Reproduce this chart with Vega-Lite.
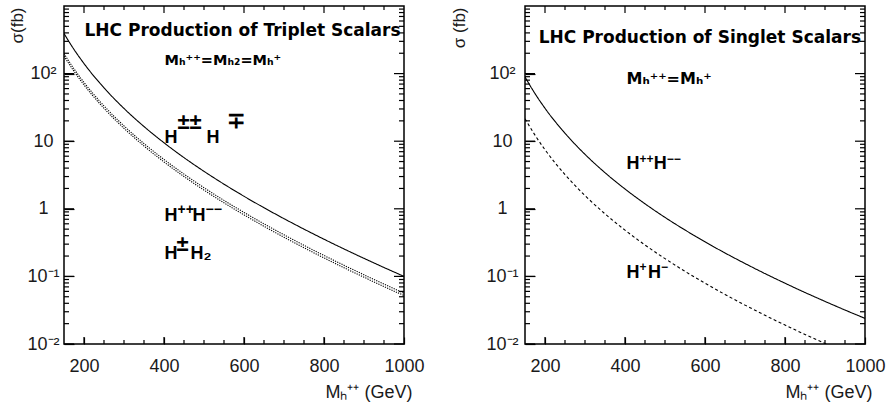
{
  "$schema": "https://vega.github.io/schema/vega-lite/v6.json",
  "padding": {"left": 7, "top": 5, "right": 12, "bottom": 4},
  "spacing": 121,
  "bounds": "flush",
  "config": {
    "view": {"stroke": "black", "strokeWidth": 1.5},
    "axis": {"domain": false, "grid": false, "ticks": true, "tickColor": "black", "tickWidth": 1.2, "labelColor": "#1a1a1a", "labelFont": "Liberation Sans", "labelFontSize": 18, "titleFont": "Liberation Sans", "titleFontSize": 17, "titleFontWeight": "normal", "titleColor": "#1a1a1a", "labelOverlap": false, "labelFlush": false}
  },
  "datasets": {
    "triplet": [
      {"m":150,"sigma":391.7,"process":"triplet H±±H∓"},{"m":175,"sigma":227.6,"process":"triplet H±±H∓"},{"m":200,"sigma":140.8,"process":"triplet H±±H∓"},{"m":250,"sigma":61.6,"process":"triplet H±±H∓"},{"m":300,"sigma":30.5,"process":"triplet H±±H∓"},{"m":350,"sigma":16.48,"process":"triplet H±±H∓"},{"m":400,"sigma":9.48,"process":"triplet H±±H∓"},{"m":450,"sigma":5.715,"process":"triplet H±±H∓"},{"m":500,"sigma":3.581,"process":"triplet H±±H∓"},{"m":550,"sigma":2.313,"process":"triplet H±±H∓"},{"m":600,"sigma":1.532,"process":"triplet H±±H∓"},{"m":650,"sigma":1.037,"process":"triplet H±±H∓"},{"m":700,"sigma":0.7145,"process":"triplet H±±H∓"},{"m":750,"sigma":0.5001,"process":"triplet H±±H∓"},{"m":800,"sigma":0.3548,"process":"triplet H±±H∓"},{"m":850,"sigma":0.2547,"process":"triplet H±±H∓"},{"m":900,"sigma":0.1848,"process":"triplet H±±H∓"},{"m":950,"sigma":0.1354,"process":"triplet H±±H∓"},{"m":1000,"sigma":0.1,"process":"triplet H±±H∓"},
      {"m":150,"sigma":197.7,"process":"triplet H⁺⁺H⁻⁻"},{"m":175,"sigma":117.4,"process":"triplet H⁺⁺H⁻⁻"},{"m":200,"sigma":73.98,"process":"triplet H⁺⁺H⁻⁻"},{"m":250,"sigma":33.3,"process":"triplet H⁺⁺H⁻⁻"},{"m":300,"sigma":16.84,"process":"triplet H⁺⁺H⁻⁻"},{"m":350,"sigma":9.226,"process":"triplet H⁺⁺H⁻⁻"},{"m":400,"sigma":5.362,"process":"triplet H⁺⁺H⁻⁻"},{"m":450,"sigma":3.261,"process":"triplet H⁺⁺H⁻⁻"},{"m":500,"sigma":2.053,"process":"triplet H⁺⁺H⁻⁻"},{"m":550,"sigma":1.331,"process":"triplet H⁺⁺H⁻⁻"},{"m":600,"sigma":0.8843,"process":"triplet H⁺⁺H⁻⁻"},{"m":650,"sigma":0.5987,"process":"triplet H⁺⁺H⁻⁻"},{"m":700,"sigma":0.4123,"process":"triplet H⁺⁺H⁻⁻"},{"m":750,"sigma":0.2882,"process":"triplet H⁺⁺H⁻⁻"},{"m":800,"sigma":0.204,"process":"triplet H⁺⁺H⁻⁻"},{"m":850,"sigma":0.146,"process":"triplet H⁺⁺H⁻⁻"},{"m":900,"sigma":0.1056,"process":"triplet H⁺⁺H⁻⁻"},{"m":950,"sigma":0.077,"process":"triplet H⁺⁺H⁻⁻"},{"m":1000,"sigma":0.0566,"process":"triplet H⁺⁺H⁻⁻"},
      {"m":150,"sigma":181.9,"process":"triplet H±H₂"},{"m":175,"sigma":108.0,"process":"triplet H±H₂"},{"m":200,"sigma":68.06,"process":"triplet H±H₂"},{"m":250,"sigma":30.64,"process":"triplet H±H₂"},{"m":300,"sigma":15.49,"process":"triplet H±H₂"},{"m":350,"sigma":8.488,"process":"triplet H±H₂"},{"m":400,"sigma":4.933,"process":"triplet H±H₂"},{"m":450,"sigma":3.0,"process":"triplet H±H₂"},{"m":500,"sigma":1.889,"process":"triplet H±H₂"},{"m":550,"sigma":1.225,"process":"triplet H±H₂"},{"m":600,"sigma":0.8136,"process":"triplet H±H₂"},{"m":650,"sigma":0.5508,"process":"triplet H±H₂"},{"m":700,"sigma":0.3793,"process":"triplet H±H₂"},{"m":750,"sigma":0.2651,"process":"triplet H±H₂"},{"m":800,"sigma":0.1877,"process":"triplet H±H₂"},{"m":850,"sigma":0.1343,"process":"triplet H±H₂"},{"m":900,"sigma":0.0972,"process":"triplet H±H₂"},{"m":950,"sigma":0.0708,"process":"triplet H±H₂"},{"m":1000,"sigma":0.0521,"process":"triplet H±H₂"}
    ],
    "singlet": [
      {"m":150,"sigma":89.1,"process":"singlet H⁺⁺H⁻⁻"},{"m":175,"sigma":50.6,"process":"singlet H⁺⁺H⁻⁻"},{"m":200,"sigma":30.7,"process":"singlet H⁺⁺H⁻⁻"},{"m":250,"sigma":13.1,"process":"singlet H⁺⁺H⁻⁻"},{"m":300,"sigma":6.39,"process":"singlet H⁺⁺H⁻⁻"},{"m":350,"sigma":3.42,"process":"singlet H⁺⁺H⁻⁻"},{"m":400,"sigma":1.963,"process":"singlet H⁺⁺H⁻⁻"},{"m":450,"sigma":1.186,"process":"singlet H⁺⁺H⁻⁻"},{"m":500,"sigma":0.746,"process":"singlet H⁺⁺H⁻⁻"},{"m":550,"sigma":0.4857,"process":"singlet H⁺⁺H⁻⁻"},{"m":600,"sigma":0.3248,"process":"singlet H⁺⁺H⁻⁻"},{"m":650,"sigma":0.2222,"process":"singlet H⁺⁺H⁻⁻"},{"m":700,"sigma":0.1551,"process":"singlet H⁺⁺H⁻⁻"},{"m":750,"sigma":0.1101,"process":"singlet H⁺⁺H⁻⁻"},{"m":800,"sigma":0.0793,"process":"singlet H⁺⁺H⁻⁻"},{"m":850,"sigma":0.0578,"process":"singlet H⁺⁺H⁻⁻"},{"m":900,"sigma":0.0427,"process":"singlet H⁺⁺H⁻⁻"},{"m":950,"sigma":0.0318,"process":"singlet H⁺⁺H⁻⁻"},{"m":1000,"sigma":0.02394,"process":"singlet H⁺⁺H⁻⁻"},
      {"m":150,"sigma":21.53,"process":"singlet H⁺H⁻"},{"m":175,"sigma":12.28,"process":"singlet H⁺H⁻"},{"m":200,"sigma":7.48,"process":"singlet H⁺H⁻"},{"m":250,"sigma":3.21,"process":"singlet H⁺H⁻"},{"m":300,"sigma":1.571,"process":"singlet H⁺H⁻"},{"m":350,"sigma":0.843,"process":"singlet H⁺H⁻"},{"m":400,"sigma":0.483,"process":"singlet H⁺H⁻"},{"m":450,"sigma":0.2915,"process":"singlet H⁺H⁻"},{"m":500,"sigma":0.1832,"process":"singlet H⁺H⁻"},{"m":550,"sigma":0.1189,"process":"singlet H⁺H⁻"},{"m":600,"sigma":0.0793,"process":"singlet H⁺H⁻"},{"m":650,"sigma":0.0541,"process":"singlet H⁺H⁻"},{"m":700,"sigma":0.0376,"process":"singlet H⁺H⁻"},{"m":750,"sigma":0.02658,"process":"singlet H⁺H⁻"},{"m":800,"sigma":0.01906,"process":"singlet H⁺H⁻"},{"m":850,"sigma":0.01385,"process":"singlet H⁺H⁻"},{"m":900,"sigma":0.01017,"process":"singlet H⁺H⁻"},{"m":950,"sigma":0.00755,"process":"singlet H⁺H⁻"},{"m":1000,"sigma":0.00565,"process":"singlet H⁺H⁻"}
    ],
    "xticks": [{"m":200},{"m":250},{"m":300},{"m":350},{"m":400},{"m":450},{"m":500},{"m":550},{"m":600},{"m":650},{"m":700},{"m":750},{"m":800},{"m":850},{"m":900},{"m":950}],
    "yticks": [{"sigma":0.01},{"sigma":0.02},{"sigma":0.03},{"sigma":0.04},{"sigma":0.05},{"sigma":0.06},{"sigma":0.07},{"sigma":0.08},{"sigma":0.09},{"sigma":0.1},{"sigma":0.2},{"sigma":0.3},{"sigma":0.4},{"sigma":0.5},{"sigma":0.6},{"sigma":0.7},{"sigma":0.8},{"sigma":0.9},{"sigma":1},{"sigma":2},{"sigma":3},{"sigma":4},{"sigma":5},{"sigma":6},{"sigma":7},{"sigma":8},{"sigma":9},{"sigma":10},{"sigma":20},{"sigma":30},{"sigma":40},{"sigma":50},{"sigma":60},{"sigma":70},{"sigma":80},{"sigma":90},{"sigma":100},{"sigma":200},{"sigma":300},{"sigma":400},{"sigma":500},{"sigma":600},{"sigma":700},{"sigma":800},{"sigma":900}],
    "tripletText": [
      {"m":201.25,"sigma":359.7,"label":"LHC Production of Triplet Scalars","kind":"title"},
      {"m":401.25,"sigma":134,"label":"Mₕ⁺⁺=Mₕ₂=Mₕ⁺","kind":"mass"},
      {"m":401.25,"sigma":9.41,"label":"H","kind":"proc"},
      {"m":433.75,"sigma":15.15,"label":"±±","kind":"sup"},
      {"m":506.25,"sigma":9.41,"label":"H","kind":"proc"},
      {"m":556.25,"sigma":15.68,"label":"∓","kind":"sup"},
      {"m":401.25,"sigma":0.66,"label":"H","kind":"proc"},
      {"m":433.75,"sigma":0.8236,"label":"++","kind":"small"},
      {"m":471.25,"sigma":0.66,"label":"H","kind":"proc"},
      {"m":503.75,"sigma":0.8236,"label":"−−","kind":"small"},
      {"m":401.25,"sigma":0.1807,"label":"H","kind":"proc"},
      {"m":431.25,"sigma":0.2376,"label":"±","kind":"sup"},
      {"m":466.25,"sigma":0.1807,"label":"H₂","kind":"proc"}
    ],
    "singletText": [
      {"m":184.25,"sigma":283.6,"label":"LHC Production of Singlet Scalars","kind":"title"},
      {"m":403.75,"sigma":70.2,"label":"Mₕ⁺⁺=Mₕ⁺","kind":"mass"},
      {"m":403.75,"sigma":3.88,"label":"H","kind":"proc"},
      {"m":436.25,"sigma":4.84,"label":"++","kind":"small"},
      {"m":471.75,"sigma":3.88,"label":"H","kind":"proc"},
      {"m":504.25,"sigma":4.84,"label":"−−","kind":"small"},
      {"m":403.75,"sigma":0.0947,"label":"H","kind":"proc"},
      {"m":436.25,"sigma":0.1182,"label":"+","kind":"small"},
      {"m":457.5,"sigma":0.0947,"label":"H","kind":"proc"},
      {"m":490,"sigma":0.1182,"label":"−","kind":"small"}
    ]
  },
  "hconcat": [
    {
      "width": 340, "height": 338,
      "layer": [
        {
          "data": {"name": "triplet"},
          "mark": {"type": "line", "clip": true, "color": "black", "strokeWidth": 1.1, "interpolate": "monotone"},
          "encoding": {
            "x": {"field": "m", "type": "quantitative", "scale": {"domain": [150, 1000], "nice": false, "zero": false},
                  "axis": {"zindex": 1, "orient": "bottom", "values": [200,400,600,800,1000], "format": "d", "offset": -7, "tickSize": 7,
                           "labelPadding": 13, "labelBaseline": "top",
                           "title": "Mₕ⁺⁺ (GeV)", "titleFontSize": 18, "titleX": 348, "titleY": 60, "titleAlign": "right", "titleBaseline": "alphabetic", "titleAnchor": null}},
            "y": {"field": "sigma", "type": "quantitative", "scale": {"type": "log", "domain": [0.01, 1000], "nice": false},
                  "axis": {"zindex": 1, "orient": "left", "values": [0.01,0.1,1,10,100], "offset": -10, "tickSize": 10,
                           "labelExpr": "datum.value === 100 ? '10²' : datum.value === 10 ? '10' : datum.value === 1 ? '1' : datum.value === 0.1 ? '10⁻¹' : '10⁻²'",
                           "labelPadding": 21, "labelAlign": "center", "labelBaseline": "middle",
                           "title": "σ(fb)", "titleX": -57, "titleY": 1, "titleAngle": -90, "titleAlign": "right", "titleBaseline": "middle", "titleAnchor": null}},
            "detail": {"field": "process"},
            "strokeDash": {"field": "process", "type": "nominal", "legend": null,
                           "scale": {"domain": ["triplet H±±H∓", "triplet H⁺⁺H⁻⁻", "triplet H±H₂", "singlet H⁺⁺H⁻⁻", "singlet H⁺H⁻"],
                                     "range": [[1, 0], [1.2, 1.2], [1.2, 1.2], [1, 0], [3, 2.5]]}}
          }
        },
        {"data": {"name": "xticks"}, "transform": [{"filter": "datum.m % 200 === 0"}],
         "mark": {"type": "tick", "orient": "vertical", "color": "black", "thickness": 1.2, "opacity": 1, "size": 7, "yOffset": -3.5},
         "encoding": {"x": {"field": "m", "type": "quantitative"}, "y": {"datum": 0.01}}},
        {"data": {"name": "xticks"}, "transform": [{"filter": "datum.m % 200 !== 0"}],
         "mark": {"type": "tick", "orient": "vertical", "color": "black", "thickness": 1.2, "opacity": 1, "size": 4, "yOffset": -2},
         "encoding": {"x": {"field": "m", "type": "quantitative"}, "y": {"datum": 0.01}}},
        {"data": {"name": "xticks"}, "transform": [{"filter": "datum.m % 200 === 0"}],
         "mark": {"type": "tick", "orient": "vertical", "color": "black", "thickness": 1.2, "opacity": 1, "size": 7, "yOffset": 3.5},
         "encoding": {"x": {"field": "m", "type": "quantitative"}, "y": {"datum": 1000}}},
        {"data": {"name": "xticks"}, "transform": [{"filter": "datum.m % 200 !== 0"}],
         "mark": {"type": "tick", "orient": "vertical", "color": "black", "thickness": 1.2, "opacity": 1, "size": 4, "yOffset": 2},
         "encoding": {"x": {"field": "m", "type": "quantitative"}, "y": {"datum": 1000}}},
        {"data": {"name": "yticks"}, "transform": [{"filter": "indexof([0.01,0.1,1,10,100], datum.sigma) >= 0"}],
         "mark": {"type": "tick", "orient": "horizontal", "color": "black", "thickness": 1.2, "opacity": 1, "size": 10, "xOffset": 5},
         "encoding": {"y": {"field": "sigma", "type": "quantitative"}, "x": {"datum": 150}}},
        {"data": {"name": "yticks"}, "transform": [{"filter": "indexof([0.01,0.1,1,10,100], datum.sigma) < 0"}],
         "mark": {"type": "tick", "orient": "horizontal", "color": "black", "thickness": 1.2, "opacity": 1, "size": 5, "xOffset": 2.5},
         "encoding": {"y": {"field": "sigma", "type": "quantitative"}, "x": {"datum": 150}}},
        {"data": {"name": "yticks"}, "transform": [{"filter": "indexof([0.01,0.1,1,10,100], datum.sigma) >= 0"}],
         "mark": {"type": "tick", "orient": "horizontal", "color": "black", "thickness": 1.2, "opacity": 1, "size": 10, "xOffset": -5},
         "encoding": {"y": {"field": "sigma", "type": "quantitative"}, "x": {"datum": 1000}}},
        {"data": {"name": "yticks"}, "transform": [{"filter": "indexof([0.01,0.1,1,10,100], datum.sigma) < 0"}],
         "mark": {"type": "tick", "orient": "horizontal", "color": "black", "thickness": 1.2, "opacity": 1, "size": 5, "xOffset": -2.5},
         "encoding": {"y": {"field": "sigma", "type": "quantitative"}, "x": {"datum": 1000}}},
        {
          "data": {"name": "tripletText"},
          "transform": [{"filter": "datum.kind === 'title'"}],
          "mark": {"type": "text", "align": "left", "baseline": "alphabetic", "font": "DejaVu Sans", "fontWeight": "bold", "fontSize": 17, "color": "black"},
          "encoding": {"x": {"field": "m", "type": "quantitative"}, "y": {"field": "sigma", "type": "quantitative"}, "text": {"field": "label"}}
        },
        {
          "data": {"name": "tripletText"},
          "transform": [{"filter": "datum.kind === 'mass'"}],
          "mark": {"type": "text", "align": "left", "baseline": "alphabetic", "font": "DejaVu Sans", "fontWeight": "bold", "fontSize": 14.5, "color": "black"},
          "encoding": {"x": {"field": "m", "type": "quantitative"}, "y": {"field": "sigma", "type": "quantitative"}, "text": {"field": "label"}}
        },
        {
          "data": {"name": "tripletText"},
          "transform": [{"filter": "datum.kind === 'proc'"}],
          "mark": {"type": "text", "align": "left", "baseline": "alphabetic", "font": "Liberation Sans", "fontWeight": "bold", "fontSize": 18, "color": "black"},
          "encoding": {"x": {"field": "m", "type": "quantitative"}, "y": {"field": "sigma", "type": "quantitative"}, "text": {"field": "label"}}
        },
        {
          "data": {"name": "tripletText"},
          "transform": [{"filter": "datum.kind === 'sup'"}],
          "mark": {"type": "text", "align": "left", "baseline": "alphabetic", "font": "Liberation Sans", "fontWeight": "bold", "fontSize": 22, "color": "black"},
          "encoding": {"x": {"field": "m", "type": "quantitative"}, "y": {"field": "sigma", "type": "quantitative"}, "text": {"field": "label"}}
        },
        {
          "data": {"name": "tripletText"},
          "transform": [{"filter": "datum.kind === 'small'"}],
          "mark": {"type": "text", "align": "left", "baseline": "alphabetic", "font": "Liberation Sans", "fontWeight": "bold", "fontSize": 14, "color": "black"},
          "encoding": {"x": {"field": "m", "type": "quantitative"}, "y": {"field": "sigma", "type": "quantitative"}, "text": {"field": "label"}}
        }
      ]
    },
    {
      "width": 340, "height": 338,
      "layer": [
        {
          "data": {"name": "singlet"},
          "mark": {"type": "line", "clip": true, "color": "black", "strokeWidth": 1.1, "interpolate": "monotone"},
          "encoding": {
            "x": {"field": "m", "type": "quantitative", "scale": {"domain": [150, 1000], "nice": false, "zero": false},
                  "axis": {"zindex": 1, "orient": "bottom", "values": [200,400,600,800,1000], "format": "d", "offset": -7, "tickSize": 7,
                           "labelPadding": 13, "labelBaseline": "top",
                           "title": "Mₕ⁺⁺ (GeV)", "titleFontSize": 18, "titleX": 347, "titleY": 60, "titleAlign": "right", "titleBaseline": "alphabetic", "titleAnchor": null}},
            "y": {"field": "sigma", "type": "quantitative", "scale": {"type": "log", "domain": [0.01, 1000], "nice": false},
                  "axis": {"zindex": 1, "orient": "left", "values": [0.01,0.1,1,10,100], "offset": -10, "tickSize": 10,
                           "labelExpr": "datum.value === 100 ? '10²' : datum.value === 10 ? '10' : datum.value === 1 ? '1' : datum.value === 0.1 ? '10⁻¹' : '10⁻²'",
                           "labelPadding": 23, "labelAlign": "center", "labelBaseline": "middle",
                           "title": "σ (fb)", "titleX": -76, "titleY": 1, "titleAngle": -90, "titleAlign": "right", "titleBaseline": "middle", "titleAnchor": null}},
            "detail": {"field": "process"},
            "strokeDash": {"field": "process", "type": "nominal", "legend": null,
                           "scale": {"domain": ["triplet H±±H∓", "triplet H⁺⁺H⁻⁻", "triplet H±H₂", "singlet H⁺⁺H⁻⁻", "singlet H⁺H⁻"],
                                     "range": [[1, 0], [1.2, 1.2], [1.2, 1.2], [1, 0], [3, 2.5]]}}
          }
        },
        {"data": {"name": "xticks"}, "transform": [{"filter": "datum.m % 200 === 0"}],
         "mark": {"type": "tick", "orient": "vertical", "color": "black", "thickness": 1.2, "opacity": 1, "size": 7, "yOffset": -3.5},
         "encoding": {"x": {"field": "m", "type": "quantitative"}, "y": {"datum": 0.01}}},
        {"data": {"name": "xticks"}, "transform": [{"filter": "datum.m % 200 !== 0"}],
         "mark": {"type": "tick", "orient": "vertical", "color": "black", "thickness": 1.2, "opacity": 1, "size": 4, "yOffset": -2},
         "encoding": {"x": {"field": "m", "type": "quantitative"}, "y": {"datum": 0.01}}},
        {"data": {"name": "xticks"}, "transform": [{"filter": "datum.m % 200 === 0"}],
         "mark": {"type": "tick", "orient": "vertical", "color": "black", "thickness": 1.2, "opacity": 1, "size": 7, "yOffset": 3.5},
         "encoding": {"x": {"field": "m", "type": "quantitative"}, "y": {"datum": 1000}}},
        {"data": {"name": "xticks"}, "transform": [{"filter": "datum.m % 200 !== 0"}],
         "mark": {"type": "tick", "orient": "vertical", "color": "black", "thickness": 1.2, "opacity": 1, "size": 4, "yOffset": 2},
         "encoding": {"x": {"field": "m", "type": "quantitative"}, "y": {"datum": 1000}}},
        {"data": {"name": "yticks"}, "transform": [{"filter": "indexof([0.01,0.1,1,10,100], datum.sigma) >= 0"}],
         "mark": {"type": "tick", "orient": "horizontal", "color": "black", "thickness": 1.2, "opacity": 1, "size": 10, "xOffset": 5},
         "encoding": {"y": {"field": "sigma", "type": "quantitative"}, "x": {"datum": 150}}},
        {"data": {"name": "yticks"}, "transform": [{"filter": "indexof([0.01,0.1,1,10,100], datum.sigma) < 0"}],
         "mark": {"type": "tick", "orient": "horizontal", "color": "black", "thickness": 1.2, "opacity": 1, "size": 5, "xOffset": 2.5},
         "encoding": {"y": {"field": "sigma", "type": "quantitative"}, "x": {"datum": 150}}},
        {"data": {"name": "yticks"}, "transform": [{"filter": "indexof([0.01,0.1,1,10,100], datum.sigma) >= 0"}],
         "mark": {"type": "tick", "orient": "horizontal", "color": "black", "thickness": 1.2, "opacity": 1, "size": 10, "xOffset": -5},
         "encoding": {"y": {"field": "sigma", "type": "quantitative"}, "x": {"datum": 1000}}},
        {"data": {"name": "yticks"}, "transform": [{"filter": "indexof([0.01,0.1,1,10,100], datum.sigma) < 0"}],
         "mark": {"type": "tick", "orient": "horizontal", "color": "black", "thickness": 1.2, "opacity": 1, "size": 5, "xOffset": -2.5},
         "encoding": {"y": {"field": "sigma", "type": "quantitative"}, "x": {"datum": 1000}}},
        {
          "data": {"name": "singletText"},
          "transform": [{"filter": "datum.kind === 'title'"}],
          "mark": {"type": "text", "align": "left", "baseline": "alphabetic", "font": "DejaVu Sans", "fontWeight": "bold", "fontSize": 17, "color": "black"},
          "encoding": {"x": {"field": "m", "type": "quantitative"}, "y": {"field": "sigma", "type": "quantitative"}, "text": {"field": "label"}}
        },
        {
          "data": {"name": "singletText"},
          "transform": [{"filter": "datum.kind === 'mass'"}],
          "mark": {"type": "text", "align": "left", "baseline": "alphabetic", "font": "DejaVu Sans", "fontWeight": "bold", "fontSize": 16, "color": "black"},
          "encoding": {"x": {"field": "m", "type": "quantitative"}, "y": {"field": "sigma", "type": "quantitative"}, "text": {"field": "label"}}
        },
        {
          "data": {"name": "singletText"},
          "transform": [{"filter": "datum.kind === 'proc'"}],
          "mark": {"type": "text", "align": "left", "baseline": "alphabetic", "font": "Liberation Sans", "fontWeight": "bold", "fontSize": 18, "color": "black"},
          "encoding": {"x": {"field": "m", "type": "quantitative"}, "y": {"field": "sigma", "type": "quantitative"}, "text": {"field": "label"}}
        },
        {
          "data": {"name": "singletText"},
          "transform": [{"filter": "datum.kind === 'small'"}],
          "mark": {"type": "text", "align": "left", "baseline": "alphabetic", "font": "Liberation Sans", "fontWeight": "bold", "fontSize": 12, "color": "black"},
          "encoding": {"x": {"field": "m", "type": "quantitative"}, "y": {"field": "sigma", "type": "quantitative"}, "text": {"field": "label"}}
        }
      ]
    }
  ]
}
